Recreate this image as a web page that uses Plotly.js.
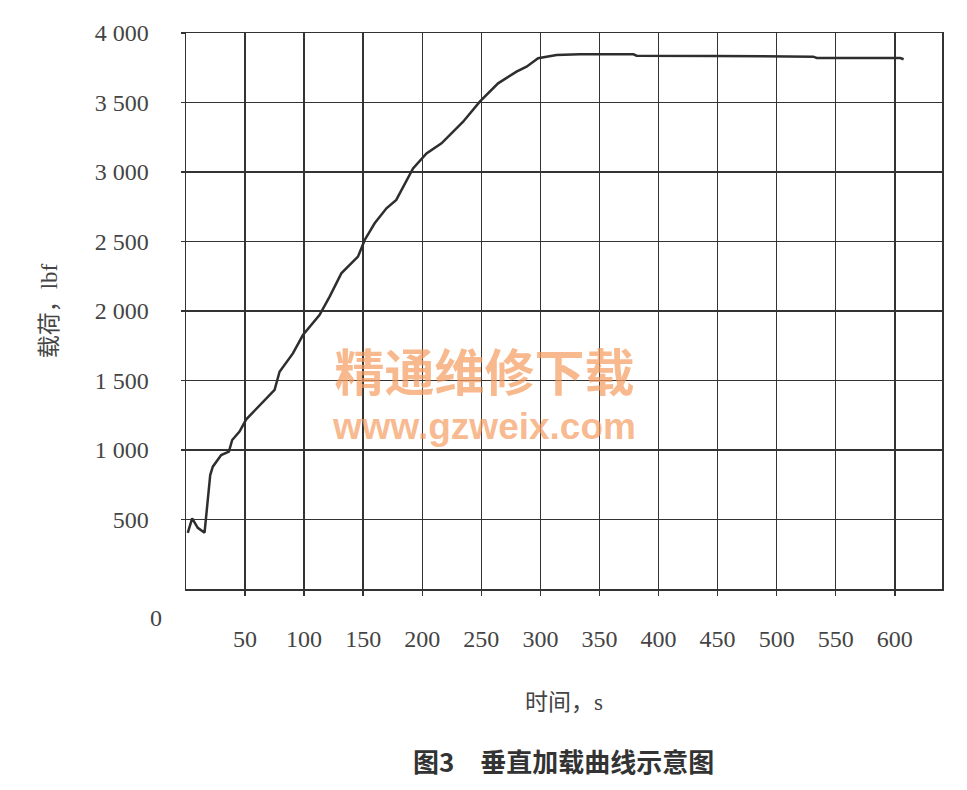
<!DOCTYPE html>
<html>
<head>
<meta charset="utf-8">
<script src="https://cdn.plot.ly/plotly-3.0.1.min.js"></script>
<style>html,body{margin:0;padding:0;background:#fff;}#chart{width:967px;height:790px;}</style>
</head>
<body>
<div id="chart"></div>
<script>
// Time (s) and vertical load (lbf)
const timeS = [1.5, 5.2, 10, 15.7, 20.5, 22.7, 29.8, 36.3, 39.1, 45.3, 51, 62.3, 75, 79.2, 86.3, 90.5, 99, 113, 121.6, 131.5, 145.6, 151.3, 159.7, 169.7, 178, 192.2, 203.6, 216.3, 234.6, 248.7, 264.2, 279.8, 288.3, 298.1, 313.7, 333.5, 378.7, 381.5, 446.5, 531, 534, 604.7, 607.5];
const loadLbf = [403, 508, 440, 405, 820, 880, 964, 988, 1072, 1132, 1221, 1324, 1432, 1563, 1647, 1695, 1827, 1971, 2103, 2271, 2391, 2511, 2631, 2739, 2799, 3026, 3134, 3206, 3362, 3506, 3638, 3722, 3758, 3818, 3842, 3847, 3847, 3837, 3835, 3830, 3820, 3820, 3811];

const xTickVals = [50, 100, 150, 200, 250, 300, 350, 400, 450, 500, 550, 600];
const xTickText = ["50", "100", "150", "200", "250", "300", "350", "400", "450", "500", "550", "600"];
const yTickVals = [500, 1000, 1500, 2000, 2500, 3000, 3500, 4000];
const yTickText = ["500", "1 000", "1 500", "2 000", "2 500", "3 000", "3 500", "4 000"];

const serif = "Liberation Serif, 'Noto Sans CJK SC', serif";

const trace = {
  x: timeS, y: loadLbf, type: 'scatter', mode: 'lines',
  line: {color: '#2e2e2e', width: 2.5},
  hoverinfo: 'x+y'
};

const layout = {
  width: 967, height: 790, autosize: false,
  margin: {l: 186, r: 25, t: 33, b: 201},
  paper_bgcolor: '#ffffff', plot_bgcolor: '#ffffff',
  showlegend: false,
  font: {family: serif, color: '#444'},
  xaxis: {
    range: [0, 640], tickmode: 'array', tickvals: xTickVals, ticktext: xTickText,
    showgrid: true, gridcolor: '#333', gridwidth: 1.5,
    showline: true, linecolor: '#333', linewidth: 1.5, mirror: true,
    ticks: 'outside', ticklen: 5, tickcolor: '#333', tickwidth: 1.5,
    ticklabelstandoff: 23,
    tickfont: {family: serif, size: 24, color: '#444'},
    zeroline: false,
    title: {text: '时间，s', font: {family: serif, size: 23, color: '#444'}, standoff: 42}
  },
  yaxis: {
    range: [0, 4000], tickmode: 'array', tickvals: yTickVals, ticktext: yTickText,
    showgrid: true, gridcolor: '#333', gridwidth: 1.5,
    showline: true, linecolor: '#333', linewidth: 1.5, mirror: true,
    ticks: 'outside', ticklen: 4, tickcolor: '#333', tickwidth: 1.5,
    ticklabelstandoff: 27,
    tickfont: {family: serif, size: 24, color: '#444'},
    zeroline: false,
    title: {text: '载荷，lbf', font: {family: serif, size: 23, color: '#444'}, standoff: 30}
  },
  annotations: [
    {text: '0', xref: 'x', yref: 'y', x: 0, y: 0, xanchor: 'center', yanchor: 'middle',
     xshift: -30, yshift: -29, showarrow: false, font: {family: serif, size: 24, color: '#444'}},
    {text: '图3　垂直加载曲线示意图', xref: 'paper', yref: 'paper', x: (563 - 186) / 756, y: (589 - 760) / 556,
     xanchor: 'center', yanchor: 'middle', showarrow: false,
     font: {family: "'Noto Sans CJK SC', sans-serif", size: 26, color: '#333', weight: 700}},
    {text: '<b style="font-size:50px">精通维修下载</b><br><b style="font-family:Liberation Sans, Arial, sans-serif;font-size:37px">www.gzweix.com</b>',
     xref: 'paper', yref: 'paper', x: (484 - 186) / 756, y: (589 - 390) / 556,
     xanchor: 'center', yanchor: 'middle', showarrow: false,
     font: {family: "'Noto Sans CJK SC', sans-serif", size: 37, color: 'rgba(245,155,95,0.7)'}}
  ]
};

Plotly.newPlot('chart', [trace], layout, {displayModeBar: false, staticPlot: true});
</script>
</body>
</html>
